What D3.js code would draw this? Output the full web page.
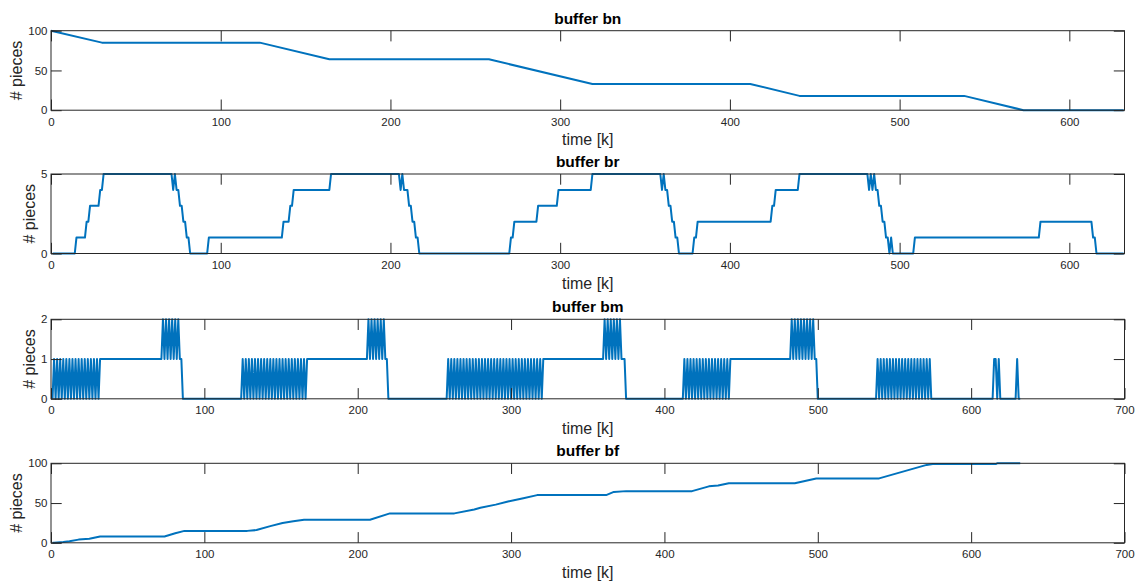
<!DOCTYPE html>
<html>
<head>
<meta charset="utf-8">
<script src="https://cdn.jsdelivr.net/npm/d3@7"></script>
<style>
  body { margin: 0; background: #fff; }
  svg { display: block; font-family: "Liberation Sans", Arial, Helvetica, sans-serif; }
</style>
</head>
<body>
<svg id="chart" width="1137" height="586"></svg>
<script>
// buffer bn: [k, pieces] vertices
const bnPoints = [[0,100],[30,85],[123,85],[164,64],[258,64],[319,33],[412,33],[441,18],[538,18],[573,0],[632,0]];

// buffer br: [k, pieces] vertices
const brPoints = [
  [1,0],[14,0],[15,1],[20,1],[21,2],[22,2],[23,3],[28,3],[29,4],[30,4],[31,5],[71,5],[72,4],[73,5],[74,4],[75,4],
  [76,3],[77,3],[78,2],[79,2],[80,1],[81,1],[82,0],[92,0],[93,1],[136,1],[137,2],[140,2],[141,3],[142,3],[143,4],
  [164,4],[165,5],[205,5],[206,4],[207,5],[208,4],[210,4],[211,3],[212,3],[213,2],[214,2],[215,1],[216,1],[217,0],
  [270,0],[271,1],[272,1],[273,2],[286,2],[287,3],[298,3],[299,4],[318,4],[319,5],[359,5],[360,4],[361,5],[362,4],
  [363,4],[364,3],[365,3],[366,2],[367,2],[368,1],[369,1],[370,0],[378,0],[379,1],[380,1],[381,2],[424,2],[425,3],
  [426,3],[427,4],[440,4],[441,5],[481,5],[482,4],[483,5],[484,4],[485,5],[486,4],[487,4],[488,3],[489,3],[490,2],
  [491,2],[492,1],[493,1],[494,0],[495,1],[496,0],[508,0],[509,1],[582,1],[583,2],[613,2],[614,1],[615,1],[616,0],[632,0]
];

// buffer bm: one value per step from k = 1, written as runs [pattern, repeat]
const bmRuns = [
  ["0",1],["10",15],["1",41],["21",6],["1",1],["0",39],["10",21],["1",40],["21",6],["1",1],["0",39],
  ["10",31],["1",40],["21",6],["1",2],["0",38],["10",15],["1",40],["21",8],["1",1],["0",39],["10",18],
  ["0",40],["1",2],["0",1],["1",1],["0",11],["1",1],["0",2]
];

// buffer bf: [k, pieces] vertices
const bfPoints = [
  [1,0],[2,0],[8,1],[12,2],[18,4],[25,5],[32,8],[74,8],[81,12],[87,15],[128,15],[134,16],[143,21],[151,25],[158,27],
  [165,29],[208,29],[221,37],[263,37],[276,42],[280,44],[290,48],[298,52],[308,56],[317,60],[362,60],[367,64],[375,65],
  [418,65],[429,71],[435,72],[442,75],[485,75],[499,81],[540,81],[571,98],[575,99],[616,99],[617,100],[632,100]
];

const titles = ["buffer bn", "buffer br", "buffer bm", "buffer bf"];
const xMax = [632.5, 632.5, 700, 700];
const xTicks = [d3.range(0, 601, 100), d3.range(0, 601, 100), d3.range(0, 701, 100), d3.range(0, 701, 100)];
const yMax = [100, 5, 2, 100];
const yTicks = [[0, 50, 100], [0, 5], [0, 1, 2], [0, 50, 100]];

function expandRuns(runs, k0) {
  const pts = [];
  let k = k0;
  runs.forEach(([pat, n]) => {
    for (let i = 0; i < n; i++) {
      for (const ch of pat) { pts.push([k, +ch]); k++; }
    }
  });
  return pts;
}

const series = [bnPoints, brPoints, expandRuns(bmRuns, 1), bfPoints];

const svg = d3.select("#chart");
const left = 51, right = 1124.5;
const tops = [30.7, 174, 319.3, 463.3];
const plotH = 79.5;
const ylabX = [17, 30, 30, 17];
const tick = 10.7;
const textCol = "#262626";

series.forEach((data, i) => {
  const top = tops[i];
  const x = d3.scaleLinear().domain([0, xMax[i]]).range([left, right]);
  const y = d3.scaleLinear().domain([0, yMax[i]]).range([top + plotH, top]);
  const g = svg.append("g");

  g.append("path")
    .datum(data)
    .attr("fill", "none")
    .attr("stroke", "#0072BD")
    .attr("stroke-width", 2)
    .attr("stroke-linejoin", "round")
    .attr("d", d3.line().x(d => x(d[0])).y(d => y(d[1])));

  const bottom = g.append("g").attr("transform", `translate(0,${top + plotH})`)
    .call(d3.axisBottom(x).tickValues(xTicks[i]).tickFormat(d3.format("d")).tickSizeInner(-tick).tickSizeOuter(0).tickPadding(7.5));
  const topAx = g.append("g").attr("transform", `translate(0,${top})`)
    .call(d3.axisTop(x).tickValues(xTicks[i]).tickFormat("").tickSizeInner(-tick).tickSizeOuter(0));
  const leftAx = g.append("g").attr("transform", `translate(${left},0)`)
    .call(d3.axisLeft(y).tickValues(yTicks[i]).tickFormat(d3.format("d")).tickSizeInner(-tick).tickSizeOuter(0).tickPadding(3.5));
  const rightAx = g.append("g").attr("transform", `translate(${right},0)`)
    .call(d3.axisRight(y).tickValues(yTicks[i]).tickFormat("").tickSizeInner(-tick).tickSizeOuter(0));

  [bottom, topAx, leftAx, rightAx].forEach(a => {
    a.select(".domain").remove();
    a.selectAll("line").attr("stroke", textCol);
    a.selectAll("text").attr("fill", textCol).style("font-size", "11.5px")
      .style("font-family", "'Liberation Sans', Arial, sans-serif");
  });

  g.append("rect")
    .attr("x", left).attr("y", top)
    .attr("width", right - left).attr("height", plotH)
    .attr("fill", "none").attr("stroke", textCol).attr("stroke-width", 1);

  g.append("text")
    .attr("x", (left + right) / 2).attr("y", top - 7)
    .attr("text-anchor", "middle")
    .style("font-size", "15.5px").style("font-weight", "bold")
    .attr("fill", "#000")
    .text(titles[i]);

  g.append("text")
    .attr("x", (left + right) / 2).attr("y", top + plotH + 35)
    .attr("text-anchor", "middle")
    .style("font-size", "16px")
    .attr("fill", textCol)
    .text("time [k]");

  g.append("text")
    .attr("transform", `translate(${ylabX[i] + 5},${top + plotH / 2}) rotate(-90)`)
    .attr("text-anchor", "middle")
    .style("font-size", "16px")
    .attr("fill", textCol)
    .text("# pieces");
});
</script>
</body>
</html>
